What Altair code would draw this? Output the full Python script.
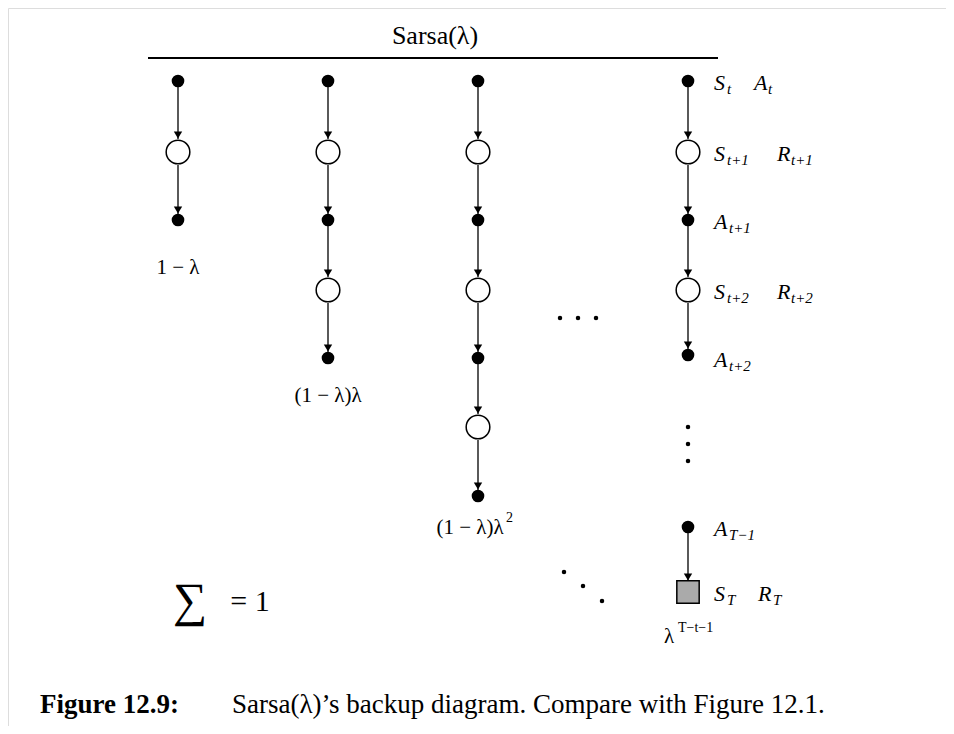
import altair as alt
import pandas as pd

# node layout: column x positions and node rows (kind: a=action dot, s=state circle, t=terminal square)
col_x = [178, 328, 478, 688]
col_nodes = [
    [(81, "a"), (152, "s"), (220, "a")],
    [(81, "a"), (152, "s"), (220, "a"), (290, "s"), (358, "a")],
    [(81, "a"), (152, "s"), (220, "a"), (290, "s"), (358, "a"), (427, "s"), (496, "a")],
    [(81, "a"), (152, "s"), (220, "a"), (290, "s"), (355, "a")],
]
tail_nodes = [(527, "a"), (592, "t")]  # last column, after the vertical dots
radius = {"a": 6, "s": 13, "t": 11}

nodes, edges = [], []
for x, seq in zip(col_x, col_nodes):
    for y, k in seq:
        nodes.append({"x": x, "y": y, "k": k})
    for (y0, k0), (y1, k1) in zip(seq[:-1], seq[1:]):
        edges.append({"x": x, "y": y0 + radius[k0], "y2": y1 - radius[k1]})
for y, k in tail_nodes:
    nodes.append({"x": 688, "y": y, "k": k})
edges.append({"x": 688, "y": 527 + 6, "y2": 592 - 11})
nodes = pd.DataFrame(nodes)
edges = pd.DataFrame(edges)
edges["yh"] = edges["y2"] - 4

# dots
dot_x = [560, 578, 596, 688, 688, 688, 564, 583, 602]
dot_y = [318, 318, 318, 427, 444, 461, 572, 586, 601]
dots = pd.DataFrame({"x": dot_x, "y": dot_y})

# labels
lab_text = ["Sarsa(λ)", "1 − λ", "(1 − λ)λ", "(1 − λ)λ", "2", "λ", "T−t−1", "∑", "= 1",
            "Figure 12.9:", "Sarsa(λ)’s backup diagram. Compare with Figure 12.1."]
lab_x = [435, 178, 328, 470, 506, 664, 678, 190, 250, 40, 232]
lab_y = [36, 268, 396, 528, 518, 637, 628, 602, 602, 705, 705]
lab_size = [26, 21, 21, 21, 14, 21, 14, 48, 30, 27, 27]
lab_align = ["center", "center", "center", "center", "left", "left", "left", "center", "center", "left", "left"]
lab_weight = ["normal"] * 9 + ["bold", "normal"]
labels = pd.DataFrame({"x": lab_x, "y": lab_y, "text": lab_text, "size": lab_size,
                       "align": lab_align, "weight": lab_weight})

# right-hand math labels: main letters and subscripts
main_text = ["S", "A", "S", "R", "A", "S", "R", "A", "A", "S", "R"]
main_x = [714, 754, 714, 777, 714, 714, 777, 714, 714, 714, 758]
main_y = [83, 83, 154, 154, 222, 292, 292, 360, 529, 594, 594]
sub_text = ["t", "t", "t+1", "t+1", "t+1", "t+2", "t+2", "t+2", "T−1", "T", "T"]
sub_x = [727, 768, 727, 791, 729, 727, 791, 729, 729, 727, 773]
mains = pd.DataFrame({"x": main_x, "y": main_y, "text": main_text})
subs = pd.DataFrame({"x": sub_x, "y": [v + 6 for v in main_y], "text": sub_text})

X = alt.X("x:Q", scale=alt.Scale(domain=[8, 946]), axis=None)
Y = alt.Y("y:Q", scale=alt.Scale(domain=[726, 8]), axis=None)
serif = "Liberation Serif"

title_rule = alt.Chart(pd.DataFrame({"x": [148], "x2": [718], "y": [58]})).mark_rule(
    color="black", strokeWidth=2).encode(x=X, x2="x2:Q", y=Y)
lines = alt.Chart(edges).mark_rule(color="black", strokeWidth=1.3).encode(x=X, y=Y, y2="y2:Q")
heads = alt.Chart(edges).mark_point(shape="triangle-down", filled=True, color="black", size=70, opacity=1).encode(
    x=X, y=alt.Y("yh:Q", scale=alt.Scale(domain=[726, 8]), axis=None))
acts = alt.Chart(nodes[nodes.k == "a"]).mark_circle(color="black", size=160, opacity=1).encode(x=X, y=Y)
states = alt.Chart(nodes[nodes.k == "s"]).mark_point(shape="circle", fill="white", filled=True,
    stroke="black", strokeWidth=1.5, size=560, opacity=1).encode(x=X, y=Y)
term = alt.Chart(nodes[nodes.k == "t"]).mark_point(shape="square", fill="#aaaaaa", filled=True,
    stroke="black", strokeWidth=1.5, size=500, opacity=1).encode(x=X, y=Y)
small_dots = alt.Chart(dots).mark_circle(color="black", size=20, opacity=1).encode(x=X, y=Y)

text_layers = []
for (al, wt, sz), g in labels.groupby(["align", "weight", "size"]):
    text_layers.append(alt.Chart(g).mark_text(font=serif, fontSize=int(sz), align=al, fontWeight=wt,
        baseline="middle", color="black").encode(x=X, y=Y, text="text:N"))
main_layer = alt.Chart(mains).mark_text(font=serif, fontSize=22, fontStyle="italic", align="left",
    baseline="middle").encode(x=X, y=Y, text="text:N")
sub_layer = alt.Chart(subs).mark_text(font=serif, fontSize=15, fontStyle="italic", align="left",
    baseline="middle").encode(x=X, y=Y, text="text:N")

chart = alt.layer(title_rule, lines, heads, acts, states, term, small_dots, main_layer, sub_layer,
                  *text_layers).properties(width=938, height=718, padding=0,
                                           autosize=alt.AutoSizeParams(type="none")
                                           ).configure_view(stroke=None).configure(background="white")
chart.save("out.html", embed_options={"renderer": "svg", "actions": False})
